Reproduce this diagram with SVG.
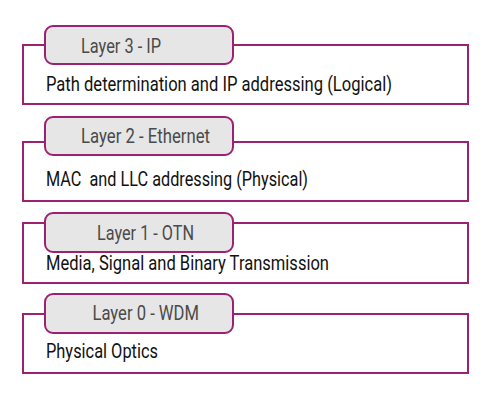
<svg xmlns="http://www.w3.org/2000/svg" width="491" height="405" viewBox="0 0 491 405">
<style>
.box{fill:#ffffff;stroke:#9b2173;stroke-width:2}
.tab{fill:#e6e6e6;stroke:#9b2173;stroke-width:2}
.title{font-family:Roboto,"Liberation Sans",sans-serif;font-size:19.5px;fill:#4a4a4a}
.desc{font-family:Roboto,"Liberation Sans",sans-serif;font-size:20.5px;fill:#111111;white-space:pre}
</style>
<rect width="491" height="405" fill="#ffffff"/>
<g id="layer3">
<rect class="box" x="23" y="45" width="445" height="59"/>
<rect class="tab" x="45" y="26" width="188" height="38" rx="8"/>
<text class="title" x="81" y="53" textLength="80" lengthAdjust="spacingAndGlyphs">Layer 3 - IP</text>
<text class="desc" x="46" y="91" textLength="346" lengthAdjust="spacingAndGlyphs">Path determination and IP addressing (Logical)</text>
</g>
<g id="layer2">
<rect class="box" x="23" y="142" width="445" height="59"/>
<rect class="tab" x="45" y="117" width="188" height="38" rx="8"/>
<text class="title" x="81" y="143" textLength="129" lengthAdjust="spacingAndGlyphs">Layer 2 - Ethernet</text>
<text class="desc" x="46" y="186" textLength="262" lengthAdjust="spacingAndGlyphs" xml:space="preserve">MAC  and LLC addressing (Physical)</text>
</g>
<g id="layer1">
<rect class="box" x="23" y="223" width="445" height="60"/>
<rect class="tab" x="45" y="213" width="188" height="39" rx="8"/>
<text class="title" x="97" y="239.5" textLength="97" lengthAdjust="spacingAndGlyphs">Layer 1 - OTN</text>
<text class="desc" x="46" y="270" textLength="283" lengthAdjust="spacingAndGlyphs">Media, Signal and Binary Transmission</text>
</g>
<g id="layer0">
<rect class="box" x="23" y="314" width="445" height="59"/>
<rect class="tab" x="45" y="294" width="188" height="39" rx="8"/>
<text class="title" x="92.5" y="320" textLength="106.5" lengthAdjust="spacingAndGlyphs">Layer 0 - WDM</text>
<text class="desc" x="46" y="358" textLength="112" lengthAdjust="spacingAndGlyphs">Physical Optics</text>
</g>
<g id="connectors"/>
</svg>
